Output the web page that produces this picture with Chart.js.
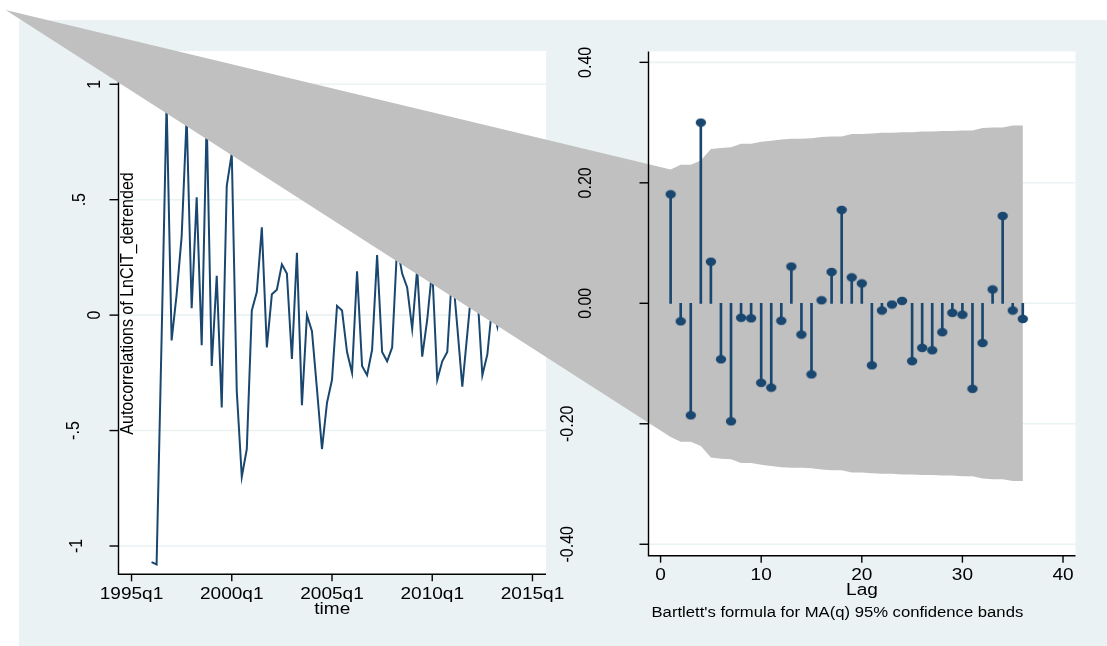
<!DOCTYPE html>
<html>
<head>
<meta charset="utf-8">
<script src="https://cdn.jsdelivr.net/npm/chart.js@4.4.1/dist/chart.umd.min.js"></script>
<style>
  html, body { margin: 0; padding: 0; background: #fff; }
  #page { position: relative; width: 1107px; height: 646px; overflow: hidden; }
  #panel { position: absolute; left: 19px; top: 20px; right: 0; bottom: 0; background: #eaf2f3; }
  canvas { position: absolute; left: 0; top: 0; }
</style>
</head>
<body>
<div id="page">
  <div id="panel"></div>
  <canvas id="timeChart" width="1107" height="646"></canvas>
  <canvas id="acChart" width="1107" height="646"></canvas>
</div>
<script>
// left graph: autocorrelations against time
const quarters = [
  "1996q1", "1996q2", "1996q3", "1996q4", "1997q1", "1997q2", "1997q3", "1997q4",
  "1998q1", "1998q2", "1998q3", "1998q4", "1999q1", "1999q2", "1999q3", "1999q4",
  "2000q1", "2000q2", "2000q3", "2000q4", "2001q1", "2001q2", "2001q3", "2001q4",
  "2002q1", "2002q2", "2002q3", "2002q4", "2003q1", "2003q2", "2003q3", "2003q4",
  "2004q1", "2004q2", "2004q3", "2004q4", "2005q1", "2005q2", "2005q3", "2005q4",
  "2006q1", "2006q2", "2006q3", "2006q4", "2007q1", "2007q2", "2007q3", "2007q4",
  "2008q1", "2008q2", "2008q3", "2008q4", "2009q1", "2009q2", "2009q3", "2009q4",
  "2010q1", "2010q2", "2010q3", "2010q4", "2011q1", "2011q2", "2011q3", "2011q4",
  "2012q1", "2012q2", "2012q3", "2012q4", "2013q1", "2013q2", "2013q3", "2013q4"
]
const acByTime = [
  -1.07, -1.08, -0.10, 0.92, -0.11, 0.09, 0.34, 0.86,
  0.03, 0.51, -0.13, 0.85, -0.22, 0.17, -0.40, 0.56,
  0.70, -0.33, -0.70, -0.58, 0.02, 0.10, 0.38, -0.14,
  0.09, 0.11, 0.22, 0.18, -0.19, 0.27, -0.39, 0.00,
  -0.07, -0.32, -0.58, -0.38, -0.28, 0.04, 0.02, -0.16,
  -0.25, 0.19, -0.22, -0.26, -0.15, 0.26, -0.16, -0.20,
  -0.14, 0.30, 0.18, 0.12, -0.06, 0.20, -0.18, -0.02,
  0.20, -0.28, -0.20, -0.16, 0.20, -0.05, -0.31, -0.08,
  0.15, 0.10, -0.26, -0.17, 0.05, -0.05, 0.10, -0.05
]
const timeTicks = ["1995q1", "2000q1", "2005q1", "2010q1", "2015q1"]
const timeYTicks = [-1, -0.5, 0, 0.5, 1]
const timeYLabels = ["-1", "-.5", "0", ".5", "1"]

// right graph: correlogram with Bartlett bands
const lags = [1, 2, 3, 4, 5, 6, 7, 8, 9, 10, 11, 12, 13, 14, 15, 16, 17, 18,
  19, 20, 21, 22, 23, 24, 25, 26, 27, 28, 29, 30, 31, 32, 33, 34, 35, 36]
const acf = [
  0.181, -0.030, -0.186, 0.300, 0.069, -0.093, -0.196, -0.024, -0.025,
  -0.132, -0.140, -0.029, 0.061, -0.052, -0.118, 0.005, 0.052, 0.155,
  0.043, 0.033, -0.103, -0.012, -0.002, 0.004, -0.096, -0.074, -0.078,
  -0.048, -0.016, -0.019, -0.142, -0.066, 0.023, 0.145, -0.012, -0.026
]
// first point is the stray corner the band polygon is pulled to
const bandLags = [-65.1, 1, 2, 3, 4, 5, 6, 7, 8, 9, 10, 11, 12, 13, 14, 15, 16, 17, 18,
  19, 20, 21, 22, 23, 24, 25, 26, 27, 28, 29, 30, 31, 32, 33, 34, 35, 36]
const bandUpper = [0.487,
  0.222, 0.230, 0.230, 0.237, 0.256, 0.258, 0.259, 0.265, 0.265,
  0.268, 0.270, 0.272, 0.273, 0.273, 0.274, 0.276, 0.277, 0.277,
  0.281, 0.281, 0.282, 0.283, 0.283, 0.284, 0.284, 0.285, 0.285,
  0.286, 0.286, 0.287, 0.287, 0.291, 0.292, 0.292, 0.295, 0.295
]
const bandLower = [0.487,
  -0.222, -0.230, -0.230, -0.237, -0.256, -0.258, -0.259, -0.265, -0.265,
  -0.268, -0.270, -0.272, -0.273, -0.273, -0.274, -0.276, -0.277, -0.277,
  -0.281, -0.281, -0.282, -0.283, -0.283, -0.284, -0.284, -0.285, -0.285,
  -0.286, -0.286, -0.287, -0.287, -0.291, -0.292, -0.292, -0.295, -0.295
]
const lagTicks = [0, 10, 20, 30, 40]
const acfTicks = [-0.4, -0.2, 0, 0.2, 0.4]
const acfLabels = ["-0.40", "-0.20", "0.00", "0.20", "0.40"]

const NAVY = "#1a476f"
const BAND = "#c0c0c0"
const GRID = "#eaf2f3"
const STRETCH = 1.19  // the picture is wider than it is tall

function font(size) {
  return size + 'px "Liberation Sans", Arial, Helvetica, sans-serif'
}

// quarters since 1995q1
function qIndex(label) {
  return (parseInt(label.slice(0, 4)) - 1995) * 4 + parseInt(label.slice(5)) - 1
}

function text(ctx, str, x, y, size, align, vertical) {
  ctx.save()
  ctx.translate(x, y)
  ctx.scale(STRETCH, 1)
  if (vertical) ctx.rotate(-Math.PI / 2)
  ctx.font = font(size)
  ctx.fillStyle = "#000"
  ctx.textAlign = align
  ctx.textBaseline = "middle"
  ctx.fillText(str, 0, 0)
  ctx.restore()
}

// white plot region, grid, axes, ticks and labels in the stata look
function frame(cfg) {
  return {
    id: cfg.id,
    beforeDraw(chart) {
      const { ctx, chartArea: a } = chart
      const y = chart.scales.y
      ctx.save()
      ctx.fillStyle = "#fff"
      ctx.fillRect(a.left, a.top, a.right - a.left, a.bottom - a.top)
      ctx.strokeStyle = GRID
      ctx.lineWidth = 1.6
      cfg.yTicks.forEach(v => {
        const py = y.getPixelForValue(v)
        ctx.beginPath()
        ctx.moveTo(a.left, py)
        ctx.lineTo(a.right, py)
        ctx.stroke()
      })
      ctx.restore()
    },
    afterDatasetsDraw(chart) {
      const { ctx, chartArea: a } = chart
      const { x, y } = chart.scales
      ctx.save()
      ctx.strokeStyle = "#000"
      ctx.lineWidth = 1.4
      ctx.beginPath()
      ctx.moveTo(a.left, a.top)
      ctx.lineTo(a.left, a.bottom)
      ctx.lineTo(a.right, a.bottom)
      ctx.stroke()

      ctx.font = font(16)
      const refW = ctx.measureText(cfg.refLabel).width
      cfg.yTicks.forEach((v, i) => {
        const py = y.getPixelForValue(v)
        ctx.beginPath()
        ctx.moveTo(a.left - 9, py)
        ctx.lineTo(a.left, py)
        ctx.stroke()
        ctx.font = font(16)
        const extra = 3.3 * (ctx.measureText(cfg.yLabels[i]).width - refW)
        const off = cfg.labelGap + Math.min(Math.max(extra, 0), 21)
        text(ctx, cfg.yLabels[i], a.left - off, py, 16, "center", true)
      })

      cfg.xTicks.forEach((v, i) => {
        const px = x.getPixelForValue(v)
        ctx.beginPath()
        ctx.moveTo(px, a.bottom)
        ctx.lineTo(px, a.bottom + 7)
        ctx.stroke()
        text(ctx, cfg.xLabels[i], px, a.bottom + 20, 16, "center", false)
      })

      text(ctx, cfg.xTitle, (a.left + a.right) / 2, a.bottom + 35, 16, "center", false)
      if (cfg.yTitle) {
        text(ctx, cfg.yTitle, a.left + 9.5, 303.5, 16, "center", true)
      }
      if (cfg.note) {
        text(ctx, cfg.note, a.left + 3, a.bottom + 57, 14, "left", false)
      }
      ctx.restore()
    }
  }
}

// confidence band, drawn as one polygon without clipping
const bandLayer = {
  id: "bandLayer",
  beforeDatasetsDraw(chart) {
    const { ctx } = chart
    const { x, y } = chart.scales
    ctx.save()
    ctx.beginPath()
    bandLags.forEach((l, i) => {
      const px = x.getPixelForValue(l)
      const py = y.getPixelForValue(bandUpper[i])
      if (i === 0) ctx.moveTo(px, py)
      else ctx.lineTo(px, py)
    })
    for (let i = bandLags.length - 1; i >= 0; i--) {
      ctx.lineTo(x.getPixelForValue(bandLags[i]), y.getPixelForValue(bandLower[i]))
    }
    ctx.closePath()
    ctx.fillStyle = BAND
    ctx.fill()
    ctx.restore()
  }
}

const common = {
  responsive: false,
  maintainAspectRatio: false,
  animation: false,
  devicePixelRatio: 1,
  events: [],
  plugins: { legend: { display: false }, tooltip: { enabled: false } }
}

new Chart(document.getElementById("timeChart"), {
  type: "line",
  data: {
    datasets: [{
      data: quarters.map((q, i) => ({ x: qIndex(q), y: acByTime[i] })),
      borderColor: NAVY,
      borderWidth: 2,
      pointRadius: 0,
      tension: 0,
      fill: false
    }]
  },
  options: {
    ...common,
    layout: { autoPadding: false, padding: { left: 118.5, top: 51, right: 561, bottom: 71.7 } },
    scales: {
      x: { type: "linear", display: false, min: -2.6, max: 82.7 },
      y: { type: "linear", display: false, min: -1.1226, max: 1.144 }
    }
  },
  plugins: [frame({
    id: "timeFrame",
    yTicks: timeYTicks,
    yLabels: timeYLabels,
    xTicks: timeTicks.map(qIndex),
    xLabels: timeTicks,
    refLabel: "1",
    labelGap: 24,
    xTitle: "time",
    yTitle: "Autocorrelations of LnCIT_detrended"
  })]
})

// slightly wide dot, as in the picture
const dot = document.createElement("canvas")
dot.width = 12
dot.height = 10
const dctx = dot.getContext("2d")
dctx.fillStyle = NAVY
dctx.beginPath()
dctx.ellipse(6, 5, 5.2, 4.2, 0, 0, Math.PI * 2)
dctx.fill()

new Chart(document.getElementById("acChart"), {
  type: "scatter",
  data: {
    datasets: [
      {
        type: "scatter",
        data: lags.map((l, i) => ({ x: l, y: acf[i] })),
        pointStyle: dot,
        pointRadius: 5,
        showLine: false
      },
      {
        type: "bar",
        data: lags.map((l, i) => ({ x: l, y: acf[i] })),
        backgroundColor: NAVY,
        barThickness: 2,
        borderWidth: 0
      }
    ]
  },
  options: {
    ...common,
    layout: { autoPadding: false, padding: { left: 648.5, top: 51.5, right: 31.5, bottom: 90.3 } },
    scales: {
      x: { type: "linear", display: false, offset: false, min: -1.2, max: 41.24 },
      y: { type: "linear", display: false, min: -0.419, max: 0.418 }
    }
  },
  plugins: [bandLayer, frame({
    id: "acFrame",
    yTicks: acfTicks,
    yLabels: acfLabels,
    xTicks: lagTicks,
    xLabels: lagTicks.map(String),
    refLabel: "0.40",
    labelGap: 62.7,
    xTitle: "Lag",
    note: "Bartlett's formula for MA(q) 95% confidence bands"
  })]
})
</script>
</body>
</html>
